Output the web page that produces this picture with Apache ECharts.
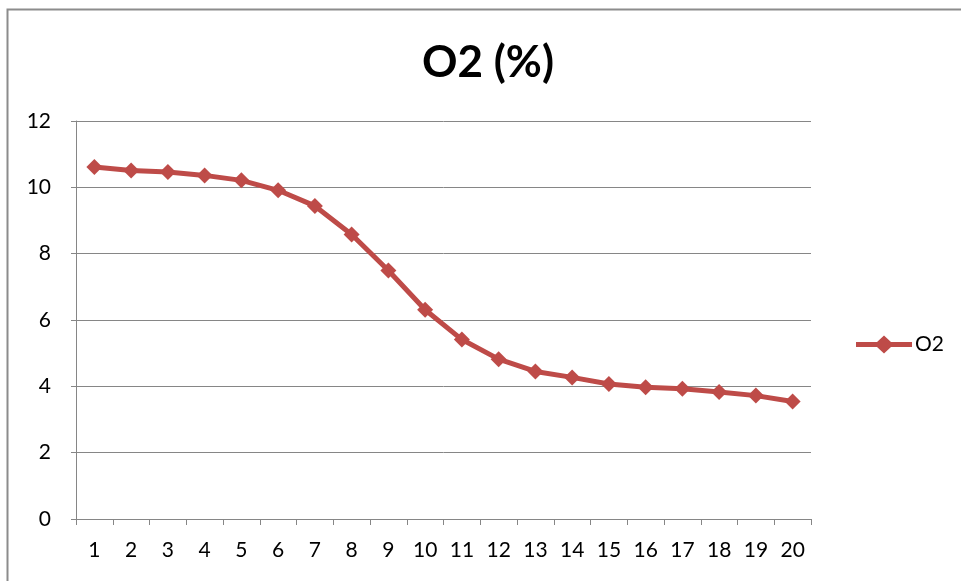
<!DOCTYPE html>
<html>
<head>
<meta charset="utf-8">
<script src="https://cdn.jsdelivr.net/npm/echarts@6/dist/echarts.min.js"></script>
<style>
  html, body { margin: 0; padding: 0; background: #fff; }
  #chart { width: 961px; height: 581px; }
</style>
</head>
<body>
<div id="chart"></div>
<script>
// Oxygen concentration readings over 20 samples
const categories = ['1','2','3','4','5','6','7','8','9','10','11','12','13','14','15','16','17','18','19','20'];
const o2Values = [10.61, 10.51, 10.46, 10.36, 10.21, 9.91, 9.44, 8.58, 7.49, 6.31, 5.41, 4.82, 4.45, 4.27, 4.07, 3.97, 3.93, 3.83, 3.72, 3.54];
const seriesName = 'O2';
const titleText = 'O2 (%)';

const FONT = 'Lato, "Open Sans", sans-serif';
const GRID_COLOR = '#868686';
const LINE_COLOR = '#BE4B48';

// legend key: thick line segment with a diamond in the middle
const LEGEND_ICON = 'path://M0,6.5L21,6.5L28,0L35,6.5L56,6.5L56,11.5L35,11.5L28,18L21,11.5L0,11.5Z';

const chart = echarts.init(document.getElementById('chart'), null, { renderer: 'canvas' });
chart.setOption({
  animation: false,
  backgroundColor: '#ffffff',
  title: {
    text: titleText,
    left: 483,
    top: 36,
    textAlign: 'center',
    textStyle: { fontFamily: FONT, fontWeight: 'bold', fontSize: 44, color: '#000' }
  },
  legend: {
    data: [{ name: seriesName, icon: LEGEND_ICON }],
    left: 851,
    top: 329,
    itemWidth: 56,
    itemHeight: 18,
    itemGap: 4,
    itemStyle: { color: LINE_COLOR, borderWidth: 0 },
    lineStyle: { width: 0 },
    textStyle: { fontFamily: FONT, fontSize: 21, color: '#000', padding: [0, 0, 0, -2] }
  },
  grid: { left: 76, right: 150, top: 121, bottom: 62, containLabel: false },
  xAxis: {
    type: 'category',
    data: categories,
    boundaryGap: true,
    axisLine: { lineStyle: { color: GRID_COLOR, width: 1 } },
    axisTick: { show: true, length: 6, alignWithLabel: false, lineStyle: { color: GRID_COLOR } },
    axisLabel: { fontFamily: FONT, fontSize: 21, color: '#000', margin: 21, interval: 0 },
    splitLine: { show: false }
  },
  yAxis: {
    type: 'value',
    min: 0,
    max: 12,
    interval: 2,
    axisLine: { show: true, lineStyle: { color: GRID_COLOR, width: 1 } },
    axisTick: { show: true, length: 5, lineStyle: { color: GRID_COLOR } },
    axisLabel: { fontFamily: FONT, fontSize: 21, color: '#000', margin: 25 },
    splitLine: { show: true, lineStyle: { color: GRID_COLOR, width: 1 } }
  },
  graphic: [{
    type: 'rect',
    shape: { x: 7.5, y: 9.5, width: 1000, height: 700 },
    style: { fill: 'none', stroke: '#8c8c8c', lineWidth: 2 },
    silent: true,
    z: 100
  }],
  series: [{
    name: seriesName,
    type: 'line',
    data: o2Values,
    symbol: 'diamond',
    symbolSize: 16,
    lineStyle: { color: LINE_COLOR, width: 5 },
    itemStyle: { color: LINE_COLOR },
    emphasis: { disabled: true }
  }]
});
</script>
</body>
</html>
